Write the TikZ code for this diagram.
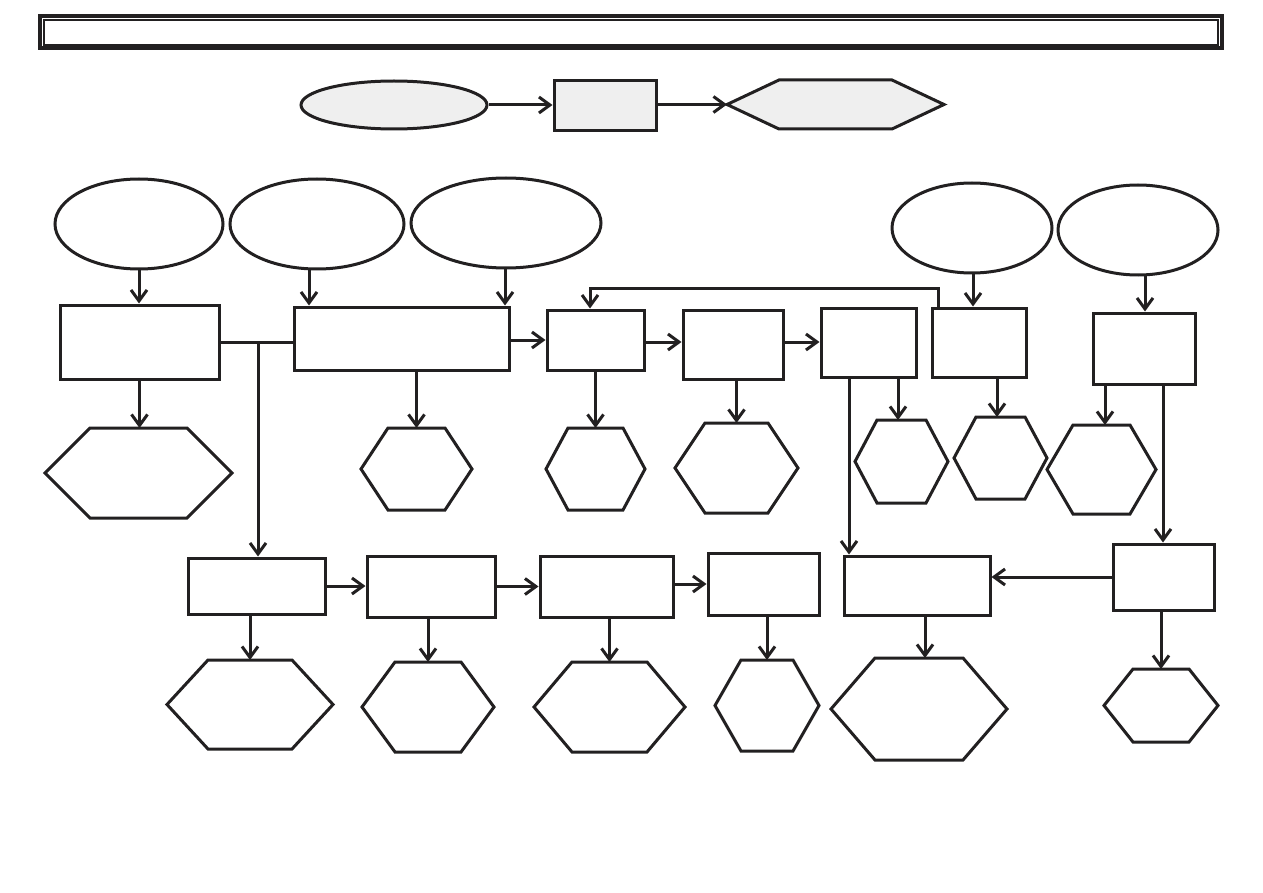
\documentclass[tikz,border=0pt]{standalone}
\usetikzlibrary{shapes.geometric,arrows.meta,calc}
\definecolor{lineclr}{RGB}{34,32,33}
\definecolor{legfill}{RGB}{239,239,239}
\tikzset{
  x=1pt, y=-1pt,
  shapeline/.style={draw=lineclr, line width=3pt, line join=miter},
  boxnode/.style={shapeline, rectangle, inner sep=0pt},
  ovalnode/.style={shapeline, ellipse, inner sep=0pt},
  hexcore/.style={rectangle, inner sep=0pt, outer sep=0pt},
  conn/.style={draw=lineclr, line width=3pt},
  arr/.style={conn, -{Straight Barb[length=11pt,width=16pt,line width=3pt]}},
}
\newcommand{\hexnode}[7][white]{%
  \node[hexcore, minimum width=#5pt, minimum height=#6pt] (#2) at (#3,#4) {};
  \coordinate (#2-l) at ($(#2.west)+(-#7,0)$);
  \coordinate (#2-r) at ($(#2.east)+(#7,0)$);
  \draw[shapeline, fill=#1] (#2.north west) -- (#2.north east) -- (#2-r)
     -- (#2.south east) -- (#2.south west) -- (#2-l) -- cycle;}
\begin{document}
\begin{tikzpicture}
\useasboundingbox (0,0) rectangle (1263,893);
% title frame
\draw[draw=lineclr, line width=3.5pt] (40,16) rectangle (1222,48);
\draw[draw=lineclr, line width=1.5pt] (44,20) rectangle (1218,45);
% legend
\node[ovalnode, fill=legfill, minimum width=186pt, minimum height=48pt] (le) at (394,105) {};
\node[boxnode, fill=legfill, minimum width=102pt, minimum height=50pt] (lb) at (605,106) {};
\hexnode[legfill]{lh}{835.5}{104.5}{113}{49}{52}
\draw[arr] (le.east) -- (le.east -| lb.west);
\draw[arr] (lb.east |- lh-l) -- (lh-l);
% ellipses
\node[ovalnode, minimum width=168pt, minimum height=90pt] (e1) at (139,224) {};
\node[ovalnode, minimum width=174pt, minimum height=90pt] (e2) at (317,224) {};
\node[ovalnode, minimum width=190pt, minimum height=90pt] (e3) at (506,223) {};
\node[ovalnode, minimum width=160pt, minimum height=90pt] (e4) at (972,228) {};
\node[ovalnode, minimum width=160pt, minimum height=90pt] (e5) at (1138,230) {};
% boxes row 1
\node[boxnode, minimum width=159pt, minimum height=74pt] (b1) at (139.5,342) {};
\node[boxnode, minimum width=215pt, minimum height=63pt] (b2) at (401.5,338.5) {};
\node[boxnode, minimum width=97pt, minimum height=60pt] (b3) at (595.5,340) {};
\node[boxnode, minimum width=100pt, minimum height=69pt] (b4) at (733,344.5) {};
\node[boxnode, minimum width=95pt, minimum height=69pt] (b5) at (868.5,342.5) {};
\node[boxnode, minimum width=94pt, minimum height=69pt] (b6) at (979,342.5) {};
\node[boxnode, minimum width=102pt, minimum height=71pt] (b7) at (1144,348.5) {};
% boxes row 2
\node[boxnode, minimum width=137pt, minimum height=56pt] (b8) at (256.5,586) {};
\node[boxnode, minimum width=128pt, minimum height=61pt] (b9) at (431,586.5) {};
\node[boxnode, minimum width=133pt, minimum height=61pt] (b10) at (606.5,586.5) {};
\node[boxnode, minimum width=111pt, minimum height=62pt] (b11) at (763.5,584) {};
\node[boxnode, minimum width=146pt, minimum height=59pt] (b13) at (917,585.5) {};
\node[boxnode, minimum width=101pt, minimum height=66pt] (b14) at (1163.5,577) {};
% hexagons
\hexnode{h1}{138.5}{473}{97}{90}{45}
\hexnode{h2}{416.5}{469}{57}{82}{27}
\hexnode{h3}{595.5}{469}{55}{82}{22}
\hexnode{h4}{736.5}{468}{63}{90}{30}
\hexnode{h5}{901.5}{461.5}{49}{83}{22}
\hexnode{h6}{1000.5}{458}{49}{82}{22}
\hexnode{h7}{1101.5}{469.5}{57}{89}{26}
\hexnode{h8}{250}{704.5}{84}{89}{41}
\hexnode{h9}{428}{707}{66}{90}{33}
\hexnode{h10}{609.5}{707}{75}{90}{38}
\hexnode{h11}{767}{705.5}{52}{91}{26}
\hexnode{h12}{919}{709}{88}{102}{44}
\hexnode{h13}{1161}{705.5}{56}{73}{29}
% ellipse -> box
\draw[arr] (e1.south) -- (e1.south |- b1.north);
\draw[arr] (309,0 |- e2.south) -- (309,0 |- b2.north);
\draw[arr] (505,0 |- e3.south) -- (505,0 |- b2.north);
\draw[arr] (973,0 |- e4.south) -- (973,0 |- b6.north);
\draw[arr] (1145,0 |- e5.south) -- (1145,0 |- b7.north);
% row 1 flow
\draw[conn] (b1.east) -- (b1.east -| b2.west);
\draw[arr] (258,0 |- b1.east) -- (258,0 |- b8.north);
\draw[arr] (b2.east |- b3.west) -- (b3.west);
\draw[arr] (b3.east |- 0,342) -- (b4.west |- 0,342);
\draw[arr] (b4.east |- 0,342) -- (b5.west |- 0,342);
\draw[arr] (938,0 |- b6.north) -- (938,288) -| (590,0 |- b3.north);
% row 1 to hexagons
\draw[arr] (b1.south) -- (b1.south |- h1.north);
\draw[arr] (b2.south -| h2.north) -- (h2.north);
\draw[arr] (b3.south) -- (b3.south |- h3.north);
\draw[arr] (b4.south -| h4.north) -- (h4.north);
\draw[arr] (898,0 |- b5.south) -- (898,0 |- h5.north);
\draw[arr] (849,0 |- b5.south) -- (849,0 |- b13.north);
\draw[arr] (997,0 |- b6.south) -- (997,0 |- h6.north);
\draw[arr] (1105,0 |- b7.south) -- (1105,0 |- h7.north);
\draw[arr] (1163,0 |- b7.south) -- (1163,0 |- b14.north);
% row 2 flow
\draw[arr] (b8.east) -- (b8.east -| b9.west);
\draw[arr] (b9.east) -- (b9.east -| b10.west);
\draw[arr] (b10.east |- b11.west) -- (b11.west);
\draw[arr] (b14.west) -- (b14.west -| b13.east);
% row 2 to hexagons
\draw[arr] (b8.south -| h8.north) -- (h8.north);
\draw[arr] (b9.south -| h9.north) -- (h9.north);
\draw[arr] (b10.south -| h10.north) -- (h10.north);
\draw[arr] (b11.south -| h11.north) -- (h11.north);
\draw[arr] (b13.south -| 925,0) -- (925,0 |- h12.north);
\draw[arr] (b14.south -| h13.north) -- (h13.north);
\end{tikzpicture}
\end{document}
